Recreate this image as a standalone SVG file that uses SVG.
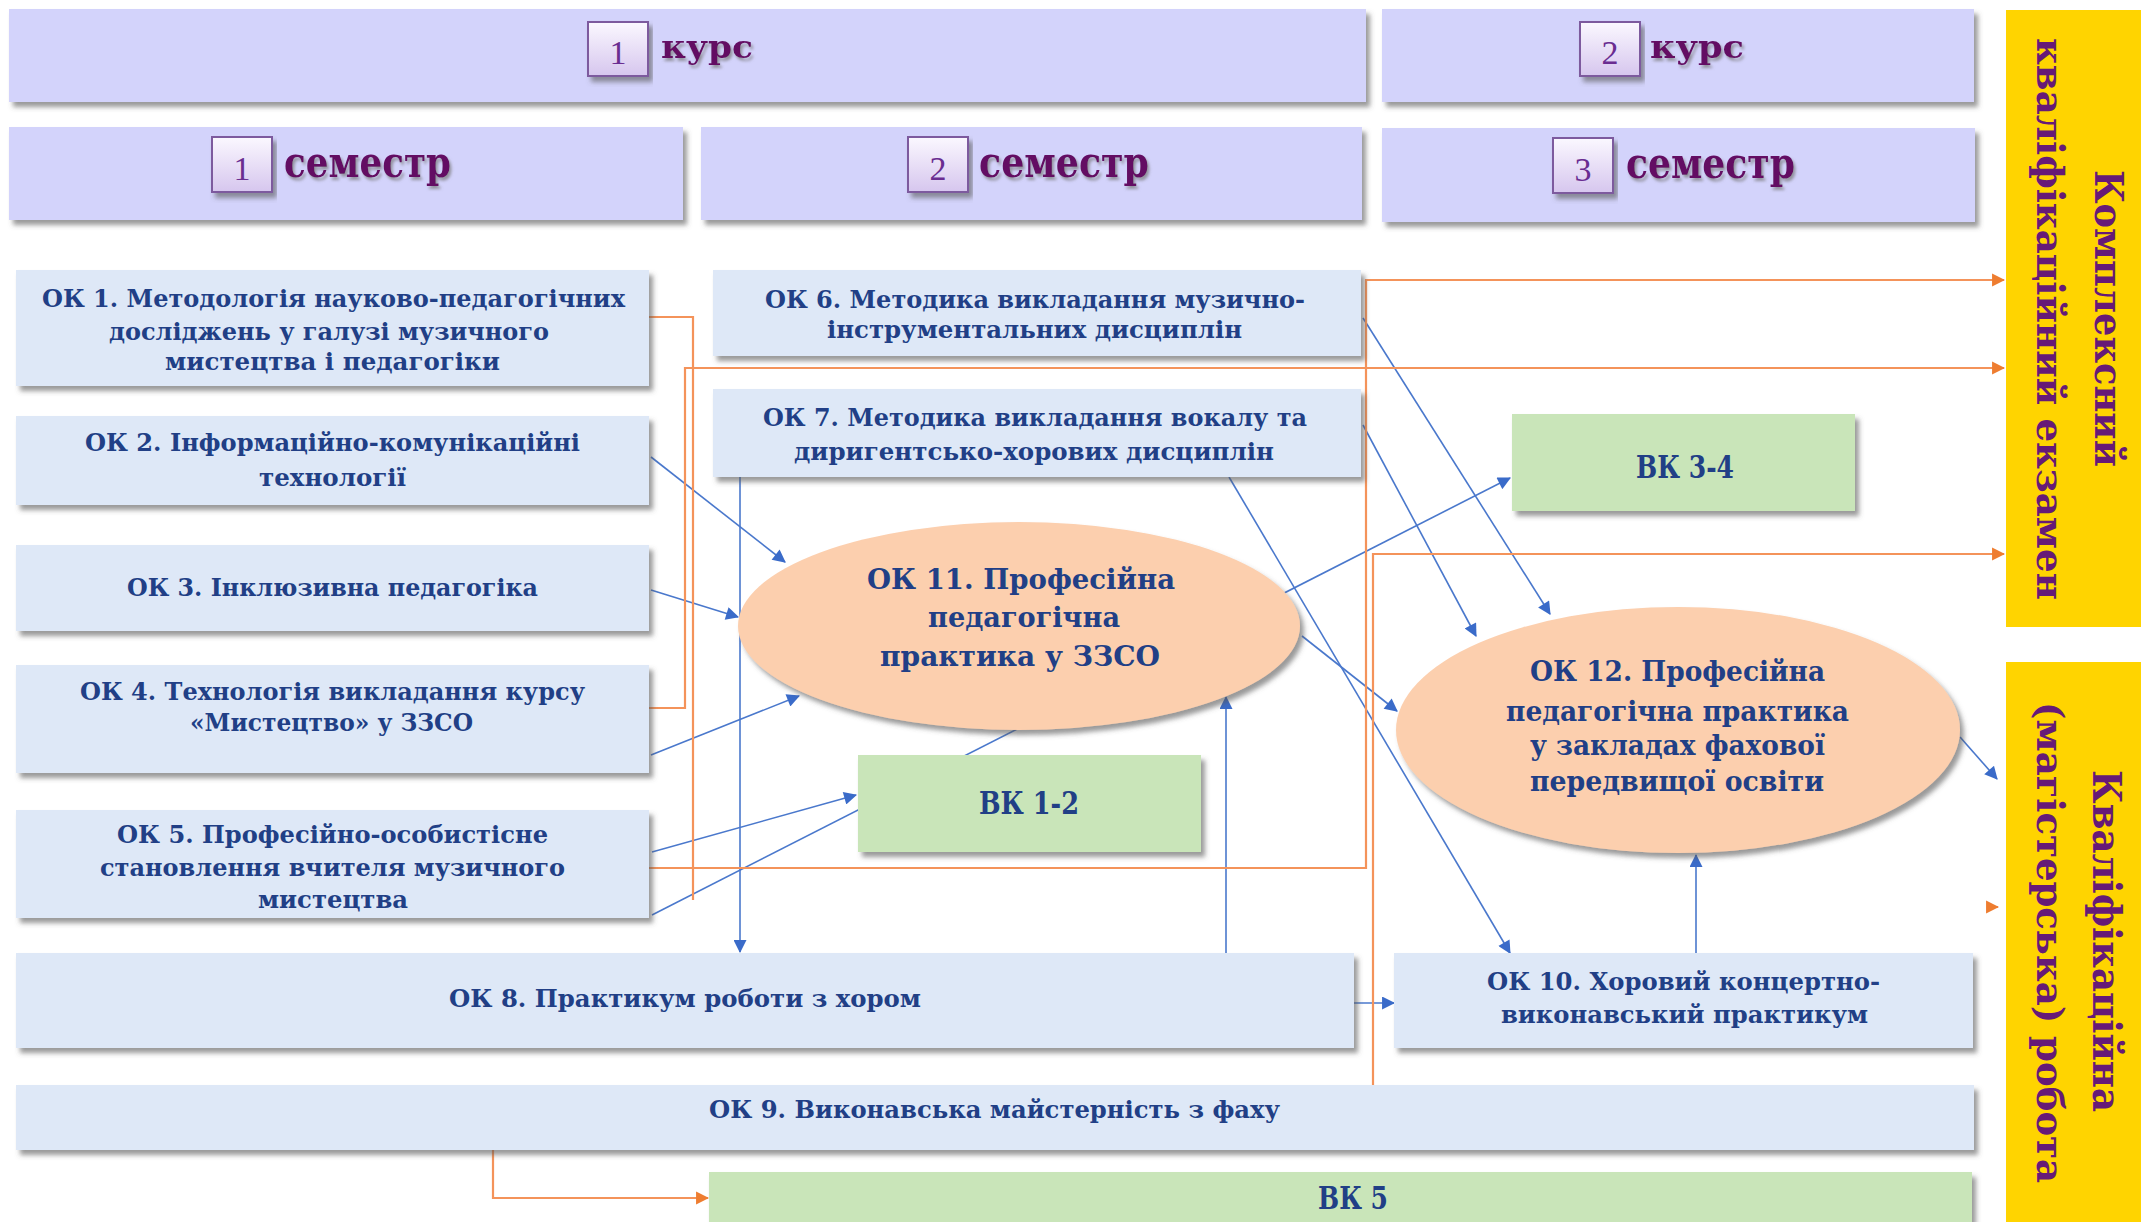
<svg xmlns="http://www.w3.org/2000/svg" width="2141" height="1222" viewBox="0 0 2141 1222">
<defs>
<filter id="sh" x="-5%" y="-10%" width="112%" height="130%">
<feDropShadow dx="4" dy="5" stdDeviation="2.5" flood-color="#555" flood-opacity="0.6"/>
</filter>
<filter id="tsh" x="-10%" y="-20%" width="130%" height="150%">
<feDropShadow dx="2" dy="3" stdDeviation="1.5" flood-color="#777" flood-opacity="0.7"/>
</filter>
<linearGradient id="bg" x1="0" y1="0" x2="0" y2="1">
<stop offset="0" stop-color="#fbf8ff"/>
<stop offset="1" stop-color="#d6c6ee"/>
</linearGradient>
<marker id="ab" viewBox="0 0 12 12" refX="11" refY="6" markerWidth="14" markerHeight="13" orient="auto" markerUnits="userSpaceOnUse">
<path d="M0,0 L12,6 L0,12 Z" fill="#3a6bc9"/>
</marker>
<marker id="ao" viewBox="0 0 12 12" refX="11" refY="6" markerWidth="13" markerHeight="14" orient="auto" markerUnits="userSpaceOnUse">
<path d="M0,0 L12,6 L0,12 Z" fill="#ee7d30"/>
</marker>
<style>
.hdr{fill:#d3d3fb;filter:url(#sh)}
.ok{fill:#dee8f7;filter:url(#sh)}
.vk{fill:#c9e5b9;filter:url(#sh)}
.el{fill:#fccfae;filter:url(#sh)}
.yel{fill:#ffd400}
.badge{fill:url(#bg);stroke:#7d5a9e;stroke-width:2;filter:url(#sh)}
.num{font-family:"Liberation Serif","DejaVu Serif",serif;font-size:34px;fill:#6a2d91;text-anchor:middle}
.ht{font-family:"DejaVu Serif","Liberation Serif",serif;font-weight:bold;fill:#640a64;filter:url(#tsh)}
.t{font-family:"DejaVu Serif","Liberation Serif",serif;font-weight:bold;font-size:24px;fill:#213f86}
.te{font-family:"DejaVu Serif","Liberation Serif",serif;font-weight:bold;font-size:27px;fill:#213f86}
.tv{font-family:"DejaVu Serif","Liberation Serif",serif;font-weight:bold;font-size:31px;fill:#213f86;text-anchor:middle}
.yt{font-family:"DejaVu Serif","Liberation Serif",serif;font-weight:bold;fill:#661a77}
.cb{fill:none;stroke:#4a78cc;stroke-width:1.6}
.co{fill:none;stroke:#f4935a;stroke-width:2.2}
</style>
</defs>

<g id="connectors">
<path class="cb" d="M651,457 L785,562" marker-end="url(#ab)"/>
<path class="cb" d="M651,590 L738,617" marker-end="url(#ab)"/>
<path class="cb" d="M651,755 L799,696" marker-end="url(#ab)"/>
<path class="cb" d="M652,852 L856,795" marker-end="url(#ab)"/>
<path class="cb" d="M652,915 L1510,478" marker-end="url(#ab)"/>
<path class="cb" d="M1363,318 L1550,614" marker-end="url(#ab)"/>
<path class="cb" d="M1363,425 L1476,636" marker-end="url(#ab)"/>
<path class="cb" d="M1229,477 L1510,953" marker-end="url(#ab)"/>
<path class="cb" d="M1302,636 L1397,711" marker-end="url(#ab)"/>
<path class="cb" d="M1960,737 L1997,779" marker-end="url(#ab)"/>
<path class="cb" d="M1696,953 L1696,855" marker-end="url(#ab)"/>
<path class="cb" d="M1354,1003 L1394,1003" marker-end="url(#ab)"/>
<path class="cb" d="M740,477 L740,952" marker-end="url(#ab)"/>
<path class="cb" d="M1226,953 L1226,697" marker-end="url(#ab)"/>
<path class="co" d="M649,317 H693 V900"/>
<path class="co" d="M649,708 H685 V368 H2004" marker-end="url(#ao)"/>
<path class="co" d="M649,868 H1366 V280 H2004" marker-end="url(#ao)"/>
<path class="co" d="M1373,1085 V554 H2004" marker-end="url(#ao)"/>
<path class="co" d="M493,1150 V1198 H708" marker-end="url(#ao)"/>
<path class="co" d="M1996,907 L1998,907" marker-end="url(#ao)"/>
</g>

<g id="kurs1">
<rect class="hdr" x="9" y="9" width="1357" height="93"/>
<rect class="badge" x="588" y="22" width="60" height="54"/>
<text class="num" x="618" y="64">1</text>
<text class="ht" x="661" y="58" font-size="32" textLength="92" lengthAdjust="spacingAndGlyphs">курс</text>
</g>
<g id="kurs2">
<rect class="hdr" x="1382" y="9" width="592" height="93"/>
<rect class="badge" x="1580" y="22" width="60" height="54"/>
<text class="num" x="1610" y="64">2</text>
<text class="ht" x="1650" y="58" font-size="32" textLength="94" lengthAdjust="spacingAndGlyphs">курс</text>
</g>
<g id="sem1">
<rect class="hdr" x="9" y="127" width="674" height="93"/>
<rect class="badge" x="212" y="137" width="60" height="55"/>
<text class="num" x="242" y="180">1</text>
<text class="ht" x="284" y="177" font-size="42" textLength="167" lengthAdjust="spacingAndGlyphs">семестр</text>
</g>
<g id="sem2">
<rect class="hdr" x="701" y="127" width="661" height="93"/>
<rect class="badge" x="908" y="137" width="60" height="55"/>
<text class="num" x="938" y="180">2</text>
<text class="ht" x="979" y="177" font-size="42" textLength="170" lengthAdjust="spacingAndGlyphs">семестр</text>
</g>
<g id="sem3">
<rect class="hdr" x="1382" y="128" width="593" height="94"/>
<rect class="badge" x="1553" y="138" width="60" height="55"/>
<text class="num" x="1583" y="181">3</text>
<text class="ht" x="1626" y="178" font-size="42" textLength="169" lengthAdjust="spacingAndGlyphs">семестр</text>
</g>

<g id="exam">
<rect class="yel" x="2006" y="10" width="135" height="617"/>
<text class="yt" font-size="40" transform="translate(2095,170) rotate(90)" textLength="297" lengthAdjust="spacingAndGlyphs">Комплексний</text>
<text class="yt" font-size="38" transform="translate(2037,38) rotate(90)" textLength="562" lengthAdjust="spacingAndGlyphs">кваліфікаційний екзамен</text>
</g>
<g id="thesis">
<rect class="yel" x="2006" y="662" width="135" height="560"/>
<text class="yt" font-size="40" transform="translate(2093,770) rotate(90)" textLength="342" lengthAdjust="spacingAndGlyphs">Кваліфікаційна</text>
<text class="yt" font-size="38" transform="translate(2037,702) rotate(90)" textLength="481" lengthAdjust="spacingAndGlyphs">(магістерська) робота</text>
</g>

<g id="ok1">
<rect class="ok" x="16" y="270" width="633" height="116"/>
<text class="t" x="42" y="307" textLength="583" lengthAdjust="spacingAndGlyphs">ОК 1. Методологія науково-педагогічних</text>
<text class="t" x="109" y="340" font-size="22" textLength="440" lengthAdjust="spacingAndGlyphs">досліджень у галузі музичного</text>
<text class="t" x="165" y="370" textLength="335" lengthAdjust="spacingAndGlyphs">мистецтва і педагогіки</text>
</g>
<g id="ok2">
<rect class="ok" x="16" y="416" width="633" height="89"/>
<text class="t" x="85" y="451" textLength="495" lengthAdjust="spacingAndGlyphs">ОК 2. Інформаційно-комунікаційні</text>
<text class="t" x="259" y="486" font-size="22" textLength="147" lengthAdjust="spacingAndGlyphs">технології</text>
</g>
<g id="ok3">
<rect class="ok" x="16" y="545" width="633" height="86"/>
<text class="t" x="127" y="596" textLength="411" lengthAdjust="spacingAndGlyphs">ОК 3. Інклюзивна педагогіка</text>
</g>
<g id="ok4">
<rect class="ok" x="16" y="665" width="633" height="108"/>
<text class="t" x="80" y="700" textLength="505" lengthAdjust="spacingAndGlyphs">ОК 4. Технологія викладання курсу</text>
<text class="t" x="190" y="731" textLength="283" lengthAdjust="spacingAndGlyphs">«Мистецтво» у ЗЗСО</text>
</g>
<g id="ok5">
<rect class="ok" x="16" y="810" width="633" height="108"/>
<text class="t" x="117" y="843" textLength="431" lengthAdjust="spacingAndGlyphs">ОК 5. Професійно-особистісне</text>
<text class="t" x="100" y="876" textLength="465" lengthAdjust="spacingAndGlyphs">становлення вчителя музичного</text>
<text class="t" x="258" y="908" textLength="150" lengthAdjust="spacingAndGlyphs">мистецтва</text>
</g>
<g id="ok6">
<rect class="ok" x="713" y="270" width="648" height="86"/>
<text class="t" x="765" y="308" textLength="540" lengthAdjust="spacingAndGlyphs">ОК 6. Методика викладання музично-</text>
<text class="t" x="827" y="338" textLength="415" lengthAdjust="spacingAndGlyphs">інструментальних дисциплін</text>
</g>
<g id="ok7">
<rect class="ok" x="713" y="389" width="648" height="88"/>
<text class="t" x="763" y="426" textLength="544" lengthAdjust="spacingAndGlyphs">ОК 7. Методика викладання вокалу та</text>
<text class="t" x="794" y="460" textLength="480" lengthAdjust="spacingAndGlyphs">диригентсько-хорових дисциплін</text>
</g>
<g id="vk34">
<rect class="vk" x="1512" y="414" width="343" height="97"/>
<text class="tv" x="1685" y="478" textLength="98" lengthAdjust="spacingAndGlyphs">ВК 3-4</text>
</g>
<g id="ok11">
<ellipse class="el" cx="1019" cy="626" rx="281" ry="104"/>
<text class="te" x="867" y="589" textLength="308" lengthAdjust="spacingAndGlyphs">ОК 11. Професійна</text>
<text class="te" x="928" y="627" textLength="192" lengthAdjust="spacingAndGlyphs">педагогічна</text>
<text class="te" x="880" y="666" textLength="280" lengthAdjust="spacingAndGlyphs">практика у ЗЗСО</text>
</g>
<g id="vk12">
<rect class="vk" x="858" y="755" width="343" height="97"/>
<text class="tv" x="1029" y="814" textLength="100" lengthAdjust="spacingAndGlyphs">ВК 1-2</text>
</g>
<g id="ok12">
<ellipse class="el" cx="1678" cy="730" rx="282" ry="123"/>
<text class="te" x="1530" y="681" textLength="295" lengthAdjust="spacingAndGlyphs">ОК 12. Професійна</text>
<text class="te" x="1506" y="721" textLength="343" lengthAdjust="spacingAndGlyphs">педагогічна практика</text>
<text class="te" x="1530" y="755" textLength="295" lengthAdjust="spacingAndGlyphs">у закладах фахової</text>
<text class="te" x="1530" y="791" textLength="294" lengthAdjust="spacingAndGlyphs">передвищої освіти</text>
</g>
<g id="ok8">
<rect class="ok" x="16" y="953" width="1338" height="95"/>
<text class="t" x="449" y="1007" textLength="472" lengthAdjust="spacingAndGlyphs">ОК 8. Практикум роботи з хором</text>
</g>
<g id="ok10">
<rect class="ok" x="1394" y="953" width="579" height="95"/>
<text class="t" x="1487" y="990" textLength="393" lengthAdjust="spacingAndGlyphs">ОК 10. Хоровий концертно-</text>
<text class="t" x="1501" y="1023" textLength="367" lengthAdjust="spacingAndGlyphs">виконавський практикум</text>
</g>
<g id="ok9">
<rect class="ok" x="16" y="1085" width="1958" height="65"/>
<text class="t" x="709" y="1118" textLength="571" lengthAdjust="spacingAndGlyphs">ОК 9. Виконавська майстерність з фаху</text>
</g>
<g id="vk5">
<rect class="vk" x="709" y="1172" width="1263" height="60"/>
<text class="tv" x="1353" y="1209" textLength="70" lengthAdjust="spacingAndGlyphs">ВК 5</text>
</g>
</svg>
